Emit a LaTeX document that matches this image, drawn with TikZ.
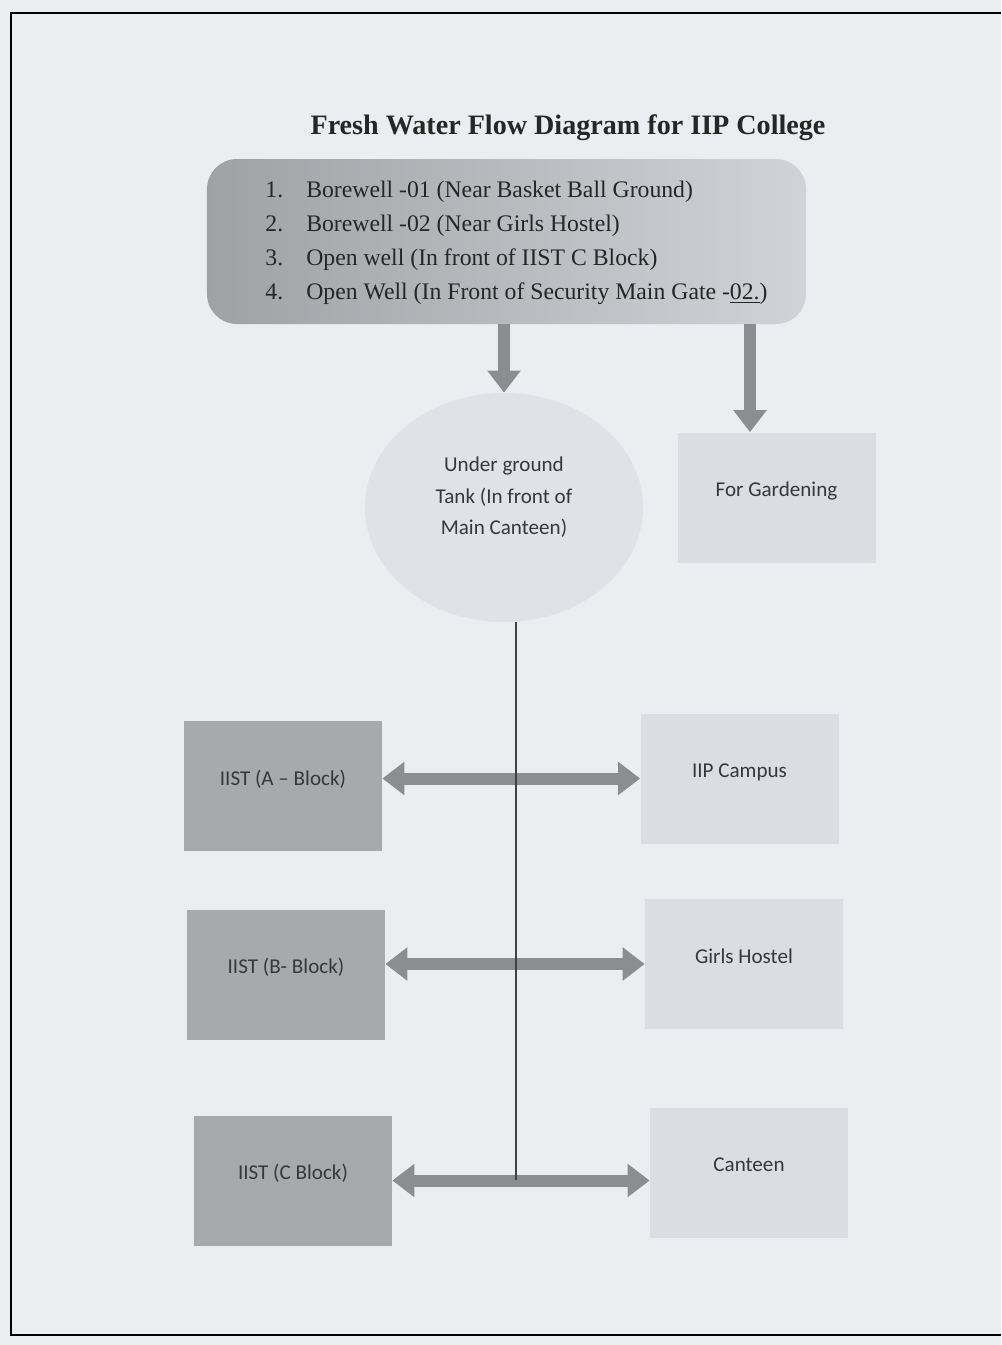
\documentclass[tikz,border=0pt]{standalone}
\usepackage{fontspec}
\setmainfont{Liberation Serif}
\newfontfamily\boxfont{Carlito}
\usetikzlibrary{arrows.meta,shapes.geometric}

\definecolor{paper}{RGB}{236,237,241}
\definecolor{darkgrey}{RGB}{168,169,173}
\definecolor{lightgrey}{RGB}{219,221,227}
\definecolor{tankgrey}{RGB}{224,226,232}
\definecolor{pipegrey}{RGB}{140,141,145}
\definecolor{boxleft}{RGB}{160,161,165}
\definecolor{boxright}{RGB}{210,211,216}
\definecolor{inkgrey}{RGB}{55,55,60}

\tikzset{
    darkbox/.style={fill=darkgrey, minimum width=39.6mm, minimum height=26mm, inner sep=0pt,
        text height=2.6mm, text depth=3mm, text=inkgrey, font=\boxfont\fontsize{12}{14}\selectfont},
    lightbox/.style={darkbox, fill=lightgrey},
    flowarrow/.style={draw=pipegrey, line width=2.4mm, -{Triangle[width=6.4mm, length=4.4mm]}},
    twoway/.style={flowarrow, {Triangle[width=6.4mm, length=4.4mm]}-{Triangle[width=6.4mm, length=4.4mm]}},
}

\begin{document}
\begin{tikzpicture}[x=0.2mm, y=-0.2mm]
    \useasboundingbox (0, 0) rectangle (1001, 1345);
    \fill[paper] (0, 0) rectangle (1001, 1345);
    \draw[line width=0.5mm] (1001, 13) -- (11, 13) -- (11, 1335) -- (1001, 1335);

    \node[font=\bfseries\fontsize{16}{19}\selectfont, text=black!85] (title) at (568, 128) {Fresh Water Flow Diagram for IIP College};

    \node[rounded corners=6mm, left color=boxleft, right color=boxright, minimum width=119.8mm,
        minimum height=33mm, inner sep=0pt, text=black!85, font=\fontsize{13.5}{19.3}\selectfont] (sources) at (506.5, 241.5)
        {\hspace{4mm}\begin{tabular}{@{}r@{\hspace{4.6mm}}l@{}}
            1. & Borewell -01 (Near Basket Ball Ground)\\
            2. & Borewell -02 (Near Girls Hostel)\\
            3. & Open well (In front of IIST C Block)\\
            4. & Open Well (In Front of Security Main Gate -\underline{02.})
        \end{tabular}};

    \node[ellipse, fill=tankgrey, minimum width=55.6mm, minimum height=45.8mm, inner sep=0pt, align=center,
        text depth=4.7mm, text=inkgrey, font=\boxfont\fontsize{12}{18}\selectfont] (tank) at (504, 507.5)
        {Under ground\\Tank (In front of\\Main Canteen)};
    \node[lightbox] (garden) at (776.5, 497.5) {For Gardening};

    \node[darkbox] (iistA) at (283, 786) {IIST (A \textendash\ Block)};
    \node[darkbox] (iistB) at (286, 974.5) {IIST (B- Block)};
    \node[darkbox] (iistC) at (293, 1180.5) {IIST (C Block)};

    \node[lightbox] (iipCampus) at (739.5, 778.5) {IIP Campus};
    \node[lightbox] (girlsHostel) at (744, 964) {Girls Hostel};
    \node[lightbox] (canteen) at (749, 1172.5) {Canteen};

    \coordinate (gardenTap) at ([xshift=-5.3mm]garden.north);
    \draw[flowarrow] (sources.south -| tank.north) -- (tank.north);
    \draw[flowarrow] (sources.south -| gardenTap) -- (gardenTap);

    \draw[twoway] (iistA.east |- iipCampus.west) -- (iipCampus.west);
    \draw[twoway] (iistB.east |- girlsHostel.west) -- (girlsHostel.west);
    \draw[twoway] (iistC.east) -- (iistC.east -| canteen.west);

    \coordinate (junction) at (516, 1180);
    \draw[line width=0.3mm, black!75] (tank.south -| junction) -- (junction);
\end{tikzpicture}
\end{document}
